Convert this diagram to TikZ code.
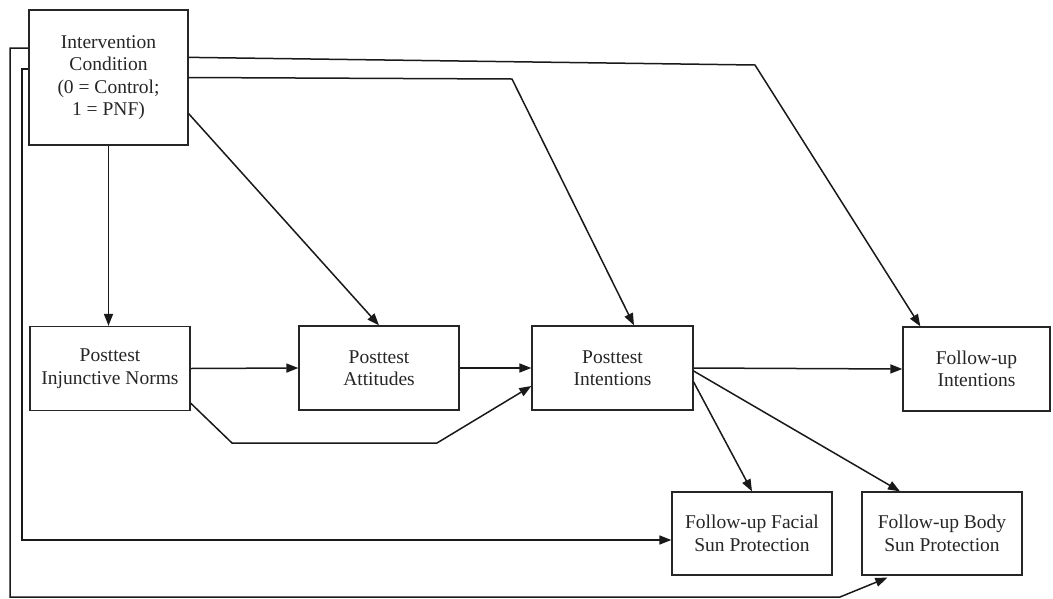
\documentclass[tikz,border=0pt]{standalone}
\usepackage{fontspec}
\setmainfont{Liberation Serif}
\usetikzlibrary{arrows.meta,calc}
\begin{document}
\begin{tikzpicture}[x=1pt,y=-1pt,
  box/.style={draw=black!85,line width=1.3pt,rectangle,inner sep=2pt,align=center,
    font=\fontsize{19.5}{22.5}\selectfont,text=black!85},
  conn/.style={draw=black!90,line width=1.5pt,line join=miter},
  arr/.style={conn,-{Triangle[length=12pt,width=9pt]}}]
\useasboundingbox (0,0) rectangle (1053,598);
\node[box,minimum width=159pt,minimum height=135pt] (interv) at (108.5,77.5) {Intervention\\Condition\\(0 = Control;\\1 = PNF)};
\node[box,minimum width=160pt,minimum height=84pt] (injunct) at (110,368.5) {Posttest\\Injunctive Norms};
\node[box,minimum width=160pt,minimum height=84pt] (attit) at (379,368) {Posttest\\Attitudes};
\node[box,minimum width=161pt,minimum height=84pt] (intent) at (612.5,368) {Posttest\\Intentions};
\node[box,minimum width=147pt,minimum height=84pt] (fint) at (976.5,369) {Follow-up\\Intentions};
\node[box,minimum width=160pt,minimum height=83pt] (facial) at (752,533.5) {Follow-up Facial\\Sun Protection};
\node[box,minimum width=160pt,minimum height=83pt] (body) at (942,533.5) {Follow-up Body\\Sun Protection};
% bend points
\coordinate (t1) at (755,65);
\coordinate (t2) at (512,79);
\coordinate (p1) at (232,443);
\coordinate (p2) at (437,443);
\coordinate (o1) at (10,48);
\coordinate (o2) at (10,597);
\coordinate (o3) at (840,597);
\coordinate (i1) at (22,69);
\coordinate (i2) at (22,540);
% connectors
\draw[arr] ($(interv.north east)+(0,48)$) -- (t1) -- ($(fint.north west)+(18,0)$);
\draw[arr] (interv.east) -- (t2) -- ($(intent.north)+(21.5,0)$);
\draw[arr] ($(interv.south east)+(0,-32)$) -- (attit.north);
\draw[arr] (interv.south) -- (interv.south |- injunct.north);
\draw[arr] (injunct.east) -- (attit.west);
\draw[arr] (attit.east) -- (intent.west);
\draw[arr] ($(injunct.south east)+(0,-8)$) -- (p1) -- (p2) -- ($(intent.west)+(0,18)$);
\draw[arr] (intent.east) -- (fint.west);
\draw[arr] ($(intent.east)+(0,14)$) -- (facial.north);
\draw[arr] ($(intent.east)+(0,3)$) -- ($(body.north)+(-42,0)$);
\draw[arr] (interv.west |- o1) -- (o1) -- (o2) -- (o3) -- ($(body.south west)+(26,2)$);
\draw[arr] (interv.west |- i1) -- (i1) -- (i2) -- (facial.west |- i2);
\end{tikzpicture}
\end{document}
